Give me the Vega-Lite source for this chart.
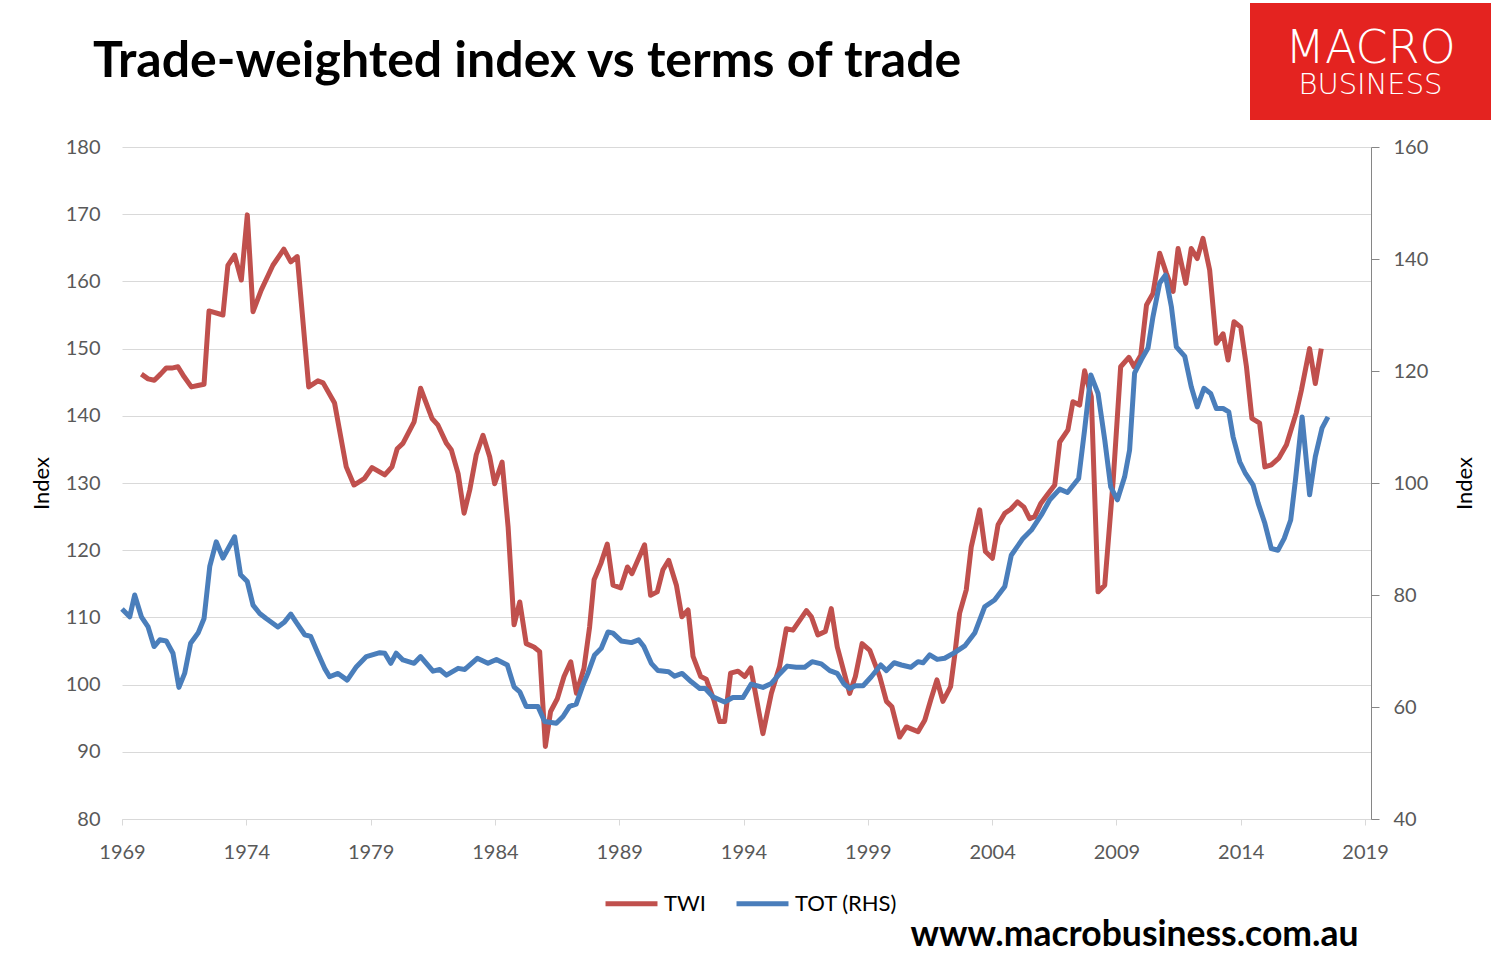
{
  "$schema": "https://vega.github.io/schema/vega-lite/v6.json",
  "background": "white",
  "padding": {"left": 30, "top": 3, "right": 0, "bottom": 0},
  "config": {"view": {"stroke": null}, "font": "Lato"},
  "datasets": {
    "twi": [
      {"year": 1969.78, "twi": 146.2}, {"year": 1970.05, "twi": 145.5}, {"year": 1970.3, "twi": 145.3},
      {"year": 1970.55, "twi": 146.2}, {"year": 1970.78, "twi": 147.1}, {"year": 1971.0, "twi": 147.1},
      {"year": 1971.25, "twi": 147.3}, {"year": 1971.5, "twi": 145.8}, {"year": 1971.79, "twi": 144.3},
      {"year": 1972.05, "twi": 144.5}, {"year": 1972.3, "twi": 144.7}, {"year": 1972.5, "twi": 155.6},
      {"year": 1973.06, "twi": 155.0}, {"year": 1973.26, "twi": 162.4}, {"year": 1973.53, "twi": 163.9},
      {"year": 1973.8, "twi": 160.2}, {"year": 1974.04, "twi": 169.9}, {"year": 1974.27, "twi": 155.5},
      {"year": 1974.6, "twi": 158.7}, {"year": 1975.07, "twi": 162.4}, {"year": 1975.51, "twi": 164.8},
      {"year": 1975.79, "twi": 162.9}, {"year": 1976.05, "twi": 163.7}, {"year": 1976.51, "twi": 144.3},
      {"year": 1976.88, "twi": 145.2}, {"year": 1977.09, "twi": 144.9}, {"year": 1977.55, "twi": 141.9},
      {"year": 1978.02, "twi": 132.4}, {"year": 1978.33, "twi": 129.7}, {"year": 1978.76, "twi": 130.7},
      {"year": 1979.06, "twi": 132.3}, {"year": 1979.57, "twi": 131.2}, {"year": 1979.86, "twi": 132.4},
      {"year": 1980.07, "twi": 135.1}, {"year": 1980.3, "twi": 135.9}, {"year": 1980.75, "twi": 139.1},
      {"year": 1981.01, "twi": 144.1}, {"year": 1981.47, "twi": 139.6}, {"year": 1981.71, "twi": 138.6},
      {"year": 1982.05, "twi": 135.9}, {"year": 1982.25, "twi": 134.9}, {"year": 1982.52, "twi": 131.4},
      {"year": 1982.76, "twi": 125.5}, {"year": 1982.99, "twi": 129.0}, {"year": 1983.25, "twi": 134.2},
      {"year": 1983.52, "twi": 137.1}, {"year": 1983.79, "twi": 133.9}, {"year": 1983.99, "twi": 129.9},
      {"year": 1984.29, "twi": 133.1}, {"year": 1984.53, "twi": 123.5}, {"year": 1984.77, "twi": 108.9},
      {"year": 1985.0, "twi": 112.3}, {"year": 1985.26, "twi": 106.1}, {"year": 1985.57, "twi": 105.6},
      {"year": 1985.8, "twi": 104.9}, {"year": 1986.03, "twi": 90.8}, {"year": 1986.24, "twi": 96.0},
      {"year": 1986.51, "twi": 97.9}, {"year": 1986.78, "twi": 101.2}, {"year": 1987.05, "twi": 103.4},
      {"year": 1987.28, "twi": 98.7}, {"year": 1987.58, "twi": 102.4}, {"year": 1987.81, "twi": 108.6},
      {"year": 1987.99, "twi": 115.6}, {"year": 1988.26, "twi": 118.0}, {"year": 1988.52, "twi": 120.9},
      {"year": 1988.75, "twi": 114.8}, {"year": 1989.06, "twi": 114.4}, {"year": 1989.33, "twi": 117.5},
      {"year": 1989.51, "twi": 116.5}, {"year": 1990.02, "twi": 120.8}, {"year": 1990.26, "twi": 113.3},
      {"year": 1990.53, "twi": 113.8}, {"year": 1990.76, "twi": 117.1}, {"year": 1990.99, "twi": 118.5},
      {"year": 1991.3, "twi": 114.8}, {"year": 1991.52, "twi": 110.1}, {"year": 1991.77, "twi": 111.1},
      {"year": 1991.97, "twi": 104.2}, {"year": 1992.28, "twi": 101.2}, {"year": 1992.5, "twi": 100.8},
      {"year": 1992.81, "twi": 97.7}, {"year": 1993.04, "twi": 94.5}, {"year": 1993.24, "twi": 94.5},
      {"year": 1993.48, "twi": 101.7}, {"year": 1993.78, "twi": 102.0}, {"year": 1994.05, "twi": 101.2},
      {"year": 1994.29, "twi": 102.5}, {"year": 1994.78, "twi": 92.7}, {"year": 1995.12, "twi": 98.7},
      {"year": 1995.45, "twi": 102.7}, {"year": 1995.72, "twi": 108.3}, {"year": 1995.99, "twi": 108.1},
      {"year": 1996.53, "twi": 111.0}, {"year": 1996.73, "twi": 110.1}, {"year": 1996.99, "twi": 107.4},
      {"year": 1997.29, "twi": 107.9}, {"year": 1997.53, "twi": 111.3}, {"year": 1997.77, "twi": 105.6},
      {"year": 1998.27, "twi": 98.7}, {"year": 1998.5, "twi": 101.2}, {"year": 1998.77, "twi": 106.1},
      {"year": 1999.08, "twi": 105.1}, {"year": 1999.48, "twi": 101.2}, {"year": 1999.75, "twi": 97.5},
      {"year": 1999.97, "twi": 96.7}, {"year": 2000.28, "twi": 92.2}, {"year": 2000.55, "twi": 93.7},
      {"year": 2001.02, "twi": 93.0}, {"year": 2001.29, "twi": 94.7}, {"year": 2001.53, "twi": 97.7},
      {"year": 2001.78, "twi": 100.7}, {"year": 2002.02, "twi": 97.5}, {"year": 2002.33, "twi": 99.7},
      {"year": 2002.5, "twi": 104.5}, {"year": 2002.69, "twi": 110.6}, {"year": 2002.96, "twi": 114.1},
      {"year": 2003.16, "twi": 120.5}, {"year": 2003.5, "twi": 126.0}, {"year": 2003.73, "twi": 119.8},
      {"year": 2004.01, "twi": 118.8}, {"year": 2004.24, "twi": 123.8}, {"year": 2004.51, "twi": 125.5},
      {"year": 2004.75, "twi": 126.1}, {"year": 2005.02, "twi": 127.2}, {"year": 2005.28, "twi": 126.4},
      {"year": 2005.51, "twi": 124.7}, {"year": 2005.71, "twi": 125.0}, {"year": 2005.95, "twi": 126.9},
      {"year": 2006.25, "twi": 128.4}, {"year": 2006.52, "twi": 129.7}, {"year": 2006.72, "twi": 136.1},
      {"year": 2007.05, "twi": 137.9}, {"year": 2007.25, "twi": 142.1}, {"year": 2007.52, "twi": 141.6},
      {"year": 2007.72, "twi": 146.7}, {"year": 2007.99, "twi": 142.8}, {"year": 2008.26, "twi": 113.8},
      {"year": 2008.53, "twi": 114.8}, {"year": 2008.87, "twi": 130.4}, {"year": 2009.17, "twi": 147.3},
      {"year": 2009.5, "twi": 148.7}, {"year": 2009.71, "twi": 147.3}, {"year": 2009.98, "twi": 149.0},
      {"year": 2010.21, "twi": 156.5}, {"year": 2010.47, "twi": 158.2}, {"year": 2010.74, "twi": 164.2},
      {"year": 2011.01, "twi": 161.2}, {"year": 2011.28, "twi": 158.5}, {"year": 2011.48, "twi": 164.9},
      {"year": 2011.79, "twi": 159.7}, {"year": 2012.01, "twi": 164.9}, {"year": 2012.25, "twi": 163.4},
      {"year": 2012.48, "twi": 166.4}, {"year": 2012.75, "twi": 161.7}, {"year": 2013.02, "twi": 150.8},
      {"year": 2013.29, "twi": 152.2}, {"year": 2013.49, "twi": 148.3}, {"year": 2013.73, "twi": 154.0},
      {"year": 2014.0, "twi": 153.2}, {"year": 2014.23, "twi": 147.3}, {"year": 2014.45, "twi": 139.6},
      {"year": 2014.76, "twi": 138.9}, {"year": 2014.97, "twi": 132.4}, {"year": 2015.23, "twi": 132.7},
      {"year": 2015.53, "twi": 133.7}, {"year": 2015.84, "twi": 135.7}, {"year": 2016.23, "twi": 140.4},
      {"year": 2016.44, "twi": 143.8}, {"year": 2016.77, "twi": 150.0}, {"year": 2017.0, "twi": 144.8},
      {"year": 2017.24, "twi": 150.0}
    ],
    "tot": [
      {"year": 1969.0, "tot": 77.5}, {"year": 1969.31, "tot": 76.1}, {"year": 1969.51, "tot": 80.0},
      {"year": 1969.78, "tot": 76.1}, {"year": 1970.05, "tot": 74.3}, {"year": 1970.29, "tot": 70.8},
      {"year": 1970.52, "tot": 72.0}, {"year": 1970.78, "tot": 71.8}, {"year": 1971.05, "tot": 69.6},
      {"year": 1971.29, "tot": 63.5}, {"year": 1971.52, "tot": 66.0}, {"year": 1971.76, "tot": 71.4},
      {"year": 1972.06, "tot": 73.2}, {"year": 1972.3, "tot": 75.8}, {"year": 1972.53, "tot": 85.1},
      {"year": 1972.79, "tot": 89.5}, {"year": 1973.06, "tot": 86.6}, {"year": 1973.53, "tot": 90.4},
      {"year": 1973.77, "tot": 83.6}, {"year": 1974.04, "tot": 82.4}, {"year": 1974.27, "tot": 78.2},
      {"year": 1974.54, "tot": 76.7}, {"year": 1974.8, "tot": 75.8}, {"year": 1975.27, "tot": 74.3},
      {"year": 1975.54, "tot": 75.2}, {"year": 1975.79, "tot": 76.6}, {"year": 1976.01, "tot": 75.1},
      {"year": 1976.35, "tot": 72.9}, {"year": 1976.59, "tot": 72.6}, {"year": 1976.88, "tot": 69.6},
      {"year": 1977.15, "tot": 66.9}, {"year": 1977.35, "tot": 65.4}, {"year": 1977.69, "tot": 66.0},
      {"year": 1978.06, "tot": 64.8}, {"year": 1978.43, "tot": 67.2}, {"year": 1978.83, "tot": 69.0},
      {"year": 1979.37, "tot": 69.7}, {"year": 1979.57, "tot": 69.6}, {"year": 1979.81, "tot": 67.8},
      {"year": 1980.03, "tot": 69.6}, {"year": 1980.3, "tot": 68.4}, {"year": 1980.75, "tot": 67.8},
      {"year": 1981.01, "tot": 69.0}, {"year": 1981.51, "tot": 66.4}, {"year": 1981.78, "tot": 66.7},
      {"year": 1982.05, "tot": 65.7}, {"year": 1982.52, "tot": 66.9}, {"year": 1982.79, "tot": 66.7},
      {"year": 1983.29, "tot": 68.7}, {"year": 1983.72, "tot": 67.8}, {"year": 1984.06, "tot": 68.5},
      {"year": 1984.5, "tot": 67.5}, {"year": 1984.77, "tot": 63.6}, {"year": 1985.0, "tot": 62.7},
      {"year": 1985.26, "tot": 60.1}, {"year": 1985.73, "tot": 60.1}, {"year": 1986.0, "tot": 57.4},
      {"year": 1986.47, "tot": 57.1}, {"year": 1986.74, "tot": 58.3}, {"year": 1987.0, "tot": 60.1},
      {"year": 1987.27, "tot": 60.5}, {"year": 1987.54, "tot": 63.9}, {"year": 1987.74, "tot": 66.0},
      {"year": 1988.01, "tot": 69.3}, {"year": 1988.28, "tot": 70.5}, {"year": 1988.55, "tot": 73.4},
      {"year": 1988.75, "tot": 73.2}, {"year": 1989.08, "tot": 71.8}, {"year": 1989.49, "tot": 71.5},
      {"year": 1989.78, "tot": 72.0}, {"year": 1989.99, "tot": 70.8}, {"year": 1990.29, "tot": 67.8},
      {"year": 1990.56, "tot": 66.5}, {"year": 1990.99, "tot": 66.3}, {"year": 1991.23, "tot": 65.5},
      {"year": 1991.53, "tot": 66.0}, {"year": 1991.9, "tot": 64.5}, {"year": 1992.24, "tot": 63.3},
      {"year": 1992.46, "tot": 63.3}, {"year": 1992.77, "tot": 61.8}, {"year": 1993.24, "tot": 60.9},
      {"year": 1993.57, "tot": 61.7}, {"year": 1993.98, "tot": 61.7}, {"year": 1994.31, "tot": 64.1},
      {"year": 1994.78, "tot": 63.5}, {"year": 1995.12, "tot": 64.2}, {"year": 1995.45, "tot": 65.9},
      {"year": 1995.76, "tot": 67.3}, {"year": 1996.12, "tot": 67.1}, {"year": 1996.46, "tot": 67.1},
      {"year": 1996.76, "tot": 68.1}, {"year": 1997.13, "tot": 67.7}, {"year": 1997.47, "tot": 66.5},
      {"year": 1997.77, "tot": 66.0}, {"year": 1998.04, "tot": 64.1}, {"year": 1998.27, "tot": 63.3},
      {"year": 1998.5, "tot": 63.8}, {"year": 1998.81, "tot": 63.8}, {"year": 1999.14, "tot": 65.4},
      {"year": 1999.52, "tot": 67.5}, {"year": 1999.75, "tot": 66.5}, {"year": 2000.06, "tot": 67.9},
      {"year": 2000.35, "tot": 67.5}, {"year": 2000.73, "tot": 67.1}, {"year": 2001.02, "tot": 68.1},
      {"year": 2001.22, "tot": 67.9}, {"year": 2001.49, "tot": 69.3}, {"year": 2001.79, "tot": 68.5},
      {"year": 2002.09, "tot": 68.7}, {"year": 2002.49, "tot": 69.7}, {"year": 2002.9, "tot": 70.9},
      {"year": 2003.3, "tot": 73.2}, {"year": 2003.7, "tot": 77.9}, {"year": 2004.1, "tot": 79.1},
      {"year": 2004.51, "tot": 81.5}, {"year": 2004.77, "tot": 87.1}, {"year": 2005.24, "tot": 90.1},
      {"year": 2005.58, "tot": 91.6}, {"year": 2005.98, "tot": 94.3}, {"year": 2006.32, "tot": 97.0},
      {"year": 2006.72, "tot": 98.9}, {"year": 2007.03, "tot": 98.3}, {"year": 2007.48, "tot": 100.8},
      {"year": 2007.72, "tot": 109.5}, {"year": 2007.97, "tot": 119.3}, {"year": 2008.26, "tot": 116.0},
      {"year": 2008.53, "tot": 107.7}, {"year": 2008.77, "tot": 99.3}, {"year": 2009.04, "tot": 97.0},
      {"year": 2009.33, "tot": 101.1}, {"year": 2009.53, "tot": 105.9}, {"year": 2009.73, "tot": 119.6},
      {"year": 2010.0, "tot": 122.0}, {"year": 2010.27, "tot": 124.1}, {"year": 2010.47, "tot": 129.7},
      {"year": 2010.74, "tot": 135.7}, {"year": 2010.97, "tot": 137.1}, {"year": 2011.21, "tot": 131.5},
      {"year": 2011.41, "tot": 124.3}, {"year": 2011.75, "tot": 122.6}, {"year": 2012.01, "tot": 117.2},
      {"year": 2012.25, "tot": 113.6}, {"year": 2012.52, "tot": 116.9}, {"year": 2012.79, "tot": 116.0},
      {"year": 2013.02, "tot": 113.3}, {"year": 2013.29, "tot": 113.3}, {"year": 2013.52, "tot": 112.7},
      {"year": 2013.69, "tot": 108.3}, {"year": 2013.96, "tot": 103.8}, {"year": 2014.19, "tot": 101.7},
      {"year": 2014.5, "tot": 99.6}, {"year": 2014.7, "tot": 96.4}, {"year": 2014.97, "tot": 92.8},
      {"year": 2015.23, "tot": 88.3}, {"year": 2015.5, "tot": 88.0}, {"year": 2015.75, "tot": 90.1},
      {"year": 2016.01, "tot": 93.4}, {"year": 2016.2, "tot": 100.5}, {"year": 2016.47, "tot": 111.8},
      {"year": 2016.77, "tot": 97.9}, {"year": 2017.0, "tot": 104.7}, {"year": 2017.27, "tot": 109.8},
      {"year": 2017.51, "tot": 111.8}
    ]
  },
  "spacing": -83,
  "vconcat": [
    {
      "spacing": 0,
      "hconcat": [
        {
          "width": 1128,
          "height": 117,
          "data": {"values": []},
          "mark": "point"
        },
        {
          "width": 241,
          "height": 117,
          "view": {"fill": "#e42320", "stroke": null},
          "data": {"values": [{"word": "MACRO"}, {"word": "BUSINESS"}]},
          "encoding": {
            "y": {
              "field": "word",
              "type": "nominal",
              "axis": null,
              "scale": {"type": "point", "domain": ["MACRO", "BUSINESS"], "padding": 1.15}
            },
            "text": {"field": "word"}
          },
          "layer": [
            {
              "transform": [{"filter": "datum.word === 'MACRO'"}],
              "mark": {"type": "text", "color": "white", "font": "DejaVu Sans", "fontWeight": 200, "fontSize": 46, "baseline": "middle", "dy": 7}
            },
            {
              "transform": [{"filter": "datum.word === 'BUSINESS'"}],
              "mark": {"type": "text", "color": "white", "font": "DejaVu Sans", "fontWeight": 200, "fontSize": 29, "baseline": "middle", "dy": 4}
            }
          ]
        }
      ]
    },
    {
      "width": 1249,
      "height": 672,
      "title": {
        "text": "Trade-weighted index vs terms of trade",
        "anchor": "start",
        "frame": "group",
        "dx": -29,
        "offset": 50,
        "font": "Lato",
        "fontSize": 50,
        "fontWeight": "bold",
        "color": "#000000"
      },
      "layer": [
        {
          "data": {"name": "twi"},
          "mark": {"type": "line", "strokeWidth": 5, "strokeJoin": "round"},
          "encoding": {
            "x": {
              "field": "year",
              "type": "quantitative",
              "scale": {"domain": [1969, 2019.24], "nice": false, "zero": false},
              "axis": {
                "values": [1969, 1974, 1979, 1984, 1989, 1994, 1999, 2004, 2009, 2014, 2019],
                "format": "d",
                "grid": false,
                "labelFlush": false,
                "labelOverlap": false,
                "labelFontSize": 20,
                "labelColor": "#595959",
                "labelPadding": 17,
                "domainColor": "#d9d9d9",
                "tickColor": "#d9d9d9",
                "tickSize": 6,
                "title": "www.macrobusiness.com.au",
                "titleFontSize": 35.5,
                "titleFontWeight": "bold",
                "titleColor": "#000000",
                "titleAlign": "right",
                "titleBaseline": "alphabetic",
                "titleX": 1236,
                "titleY": 126
              }
            },
            "y": {
              "field": "twi",
              "type": "quantitative",
              "scale": {"domain": [80, 180], "nice": false, "zero": false},
              "axis": {
                "values": [80, 90, 100, 110, 120, 130, 140, 150, 160, 170, 180],
                "grid": true,
                "gridColor": "#d9d9d9",
                "domain": false,
                "ticks": false,
                "labelFontSize": 20,
                "labelColor": "#595959",
                "labelPadding": 22,
                "title": "Index",
                "titleFontSize": 22,
                "titleFontWeight": "normal",
                "titleColor": "#000000",
                "titlePadding": 12
              }
            },
            "color": {
              "datum": "TWI",
              "scale": {"domain": ["TWI", "TOT (RHS)"], "range": ["#c0504d", "#4a7ebb"]},
              "legend": {
                "orient": "none",
                "legendX": 481,
                "legendY": 872,
                "direction": "horizontal",
                "title": null,
                "symbolType": "stroke",
                "symbolStrokeWidth": 5,
                "symbolSize": 2700,
                "labelFontSize": 22,
                "labelColor": "#000000",
                "columnPadding": 20
              }
            }
          }
        },
        {
          "data": {"name": "tot"},
          "mark": {"type": "line", "strokeWidth": 5, "strokeJoin": "round"},
          "encoding": {
            "x": {"field": "year", "type": "quantitative"},
            "y": {
              "field": "tot",
              "type": "quantitative",
              "scale": {"domain": [40, 160], "nice": false, "zero": false},
              "axis": {
                "orient": "right",
                "values": [40, 60, 80, 100, 120, 140, 160],
                "grid": false,
                "domain": true,
                "domainColor": "#868686",
                "ticks": true,
                "tickColor": "#868686",
                "tickSize": 8,
                "labelFontSize": 20,
                "labelColor": "#595959",
                "labelPadding": 14,
                "title": "Index",
                "titleAngle": 270,
                "titleBaseline": "top",
                "titleFontSize": 22,
                "titleFontWeight": "normal",
                "titleColor": "#000000",
                "titlePadding": 27
              }
            },
            "color": {"datum": "TOT (RHS)"}
          }
        }
      ],
      "resolve": {"scale": {"y": "independent"}}
    }
  ]
}
